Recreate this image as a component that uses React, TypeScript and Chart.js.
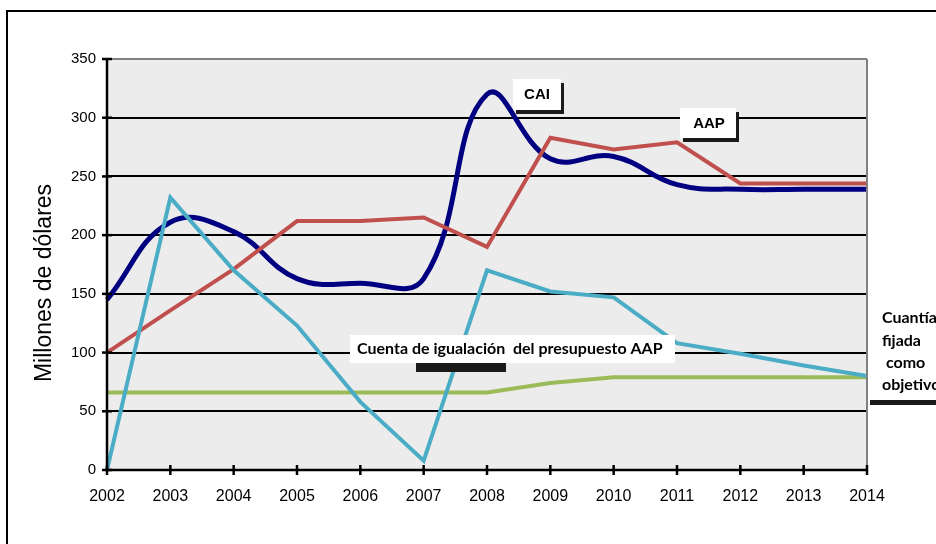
import React, { useEffect, useRef } from "react";
import { Chart, registerables } from "chart.js";

Chart.register(...registerables);

const years = ["2002", "2003", "2004", "2005", "2006", "2007", "2008", "2009", "2010", "2011", "2012", "2013", "2014"];
const caiValues = [145, 211, 203, 163, 159, 163, 320, 265, 267, 243, 239, 239, 239];
const aapValues = [100, 136, 171, 212, 212, 215, 190, 283, 273, 279, 244, 244, 244];
const cuentaValues = [0, 232, 170, 123, 58, 8, 170, 152, 147, 108, 99, 89, 80];
const objetivoValues = [66, 66, 66, 66, 66, 66, 66, 74, 79, 79, 79, 79, 79];
const yTicks = [0, 50, 100, 150, 200, 250, 300, 350];
const yTitle = "Millones de dólares";

const decorPlugin = {
  id: "decor",
  beforeDraw(chart: any) {
    const { ctx, chartArea } = chart;
    ctx.save();
    ctx.fillStyle = "#ffffff";
    ctx.fillRect(0, 0, chart.width, chart.height);
    ctx.fillStyle = "#ececec";
    ctx.fillRect(chartArea.left, chartArea.top, chartArea.right - chartArea.left, chartArea.bottom - chartArea.top);
    ctx.strokeStyle = "#000";
    ctx.lineWidth = 2;
    ctx.strokeRect(7, 11, 3000, 3000);
    ctx.translate(45, 283);
    ctx.rotate(-Math.PI / 2);
    ctx.fillStyle = "#000";
    ctx.font = "23px 'Liberation Sans', Arial, sans-serif";
    ctx.textAlign = "center";
    ctx.textBaseline = "middle";
    ctx.fillText(yTitle, 0, 0);
    ctx.restore();
  },
  afterDatasetsDraw(chart: any) {
    const { ctx, chartArea } = chart;
    const xs = chart.scales.x;
    const ys = chart.scales.y;
    ctx.save();
    ctx.strokeStyle = "#808080";
    ctx.lineWidth = 2;
    ctx.beginPath();
    ctx.moveTo(chartArea.right, chartArea.top);
    ctx.lineTo(chartArea.right, chartArea.bottom);
    ctx.stroke();
    ctx.strokeStyle = "#000";
    ctx.lineWidth = 2.5;
    ctx.beginPath();
    ctx.moveTo(chartArea.left, chartArea.top - 1);
    ctx.lineTo(chartArea.left, chartArea.bottom);
    ctx.lineTo(chartArea.right, chartArea.bottom);
    ctx.stroke();
    years.forEach((_, i) => {
      const x = xs.getPixelForValue(i);
      ctx.beginPath();
      ctx.moveTo(x, chartArea.bottom - 5);
      ctx.lineTo(x, chartArea.bottom + 5);
      ctx.stroke();
    });
    yTicks.forEach((v) => {
      const y = ys.getPixelForValue(v);
      ctx.beginPath();
      ctx.moveTo(chartArea.left - 5, y);
      ctx.lineTo(chartArea.left + 5, y);
      ctx.stroke();
    });

    const box = (x: number, y: number, w: number, h: number) => {
      ctx.fillStyle = "#1a1a1a";
      ctx.fillRect(x + 3, y + 4, w, h);
      ctx.fillStyle = "#ffffff";
      ctx.fillRect(x, y, w, h);
    };
    box(513, 79, 48, 31);
    ctx.fillStyle = "#000";
    ctx.font = "bold 15px 'Liberation Sans', Arial, sans-serif";
    ctx.textAlign = "center";
    ctx.textBaseline = "middle";
    ctx.fillText("CAI", 537, 95);
    box(680, 108, 56, 30);
    ctx.fillStyle = "#000";
    ctx.fillText("AAP", 709, 124);
    ctx.fillStyle = "#1a1a1a";
    ctx.fillRect(416, 363, 90, 9);
    ctx.fillStyle = "#ffffff";
    ctx.fillRect(350, 335, 325, 28);
    ctx.fillStyle = "#000";
    ctx.font = "bold 16px Lato, 'Noto Sans', sans-serif";
    ctx.textAlign = "left";
    ctx.fillText("Cuenta de igualación  del presupuesto AAP", 357, 349);
    ctx.fillStyle = "#ffffff";
    ctx.fillRect(872, 300, 70, 100);
    ctx.fillStyle = "#000";
    ctx.font = "bold 16px Lato, 'Noto Sans', sans-serif";
    ctx.fillText("Cuantía", 882, 318);
    ctx.fillText("fijada", 882, 341);
    ctx.fillText(" como", 882, 363);
    ctx.fillText("objetivo", 882, 385);
    ctx.fillStyle = "#1a1a1a";
    ctx.fillRect(870, 400, 66, 5);
    ctx.restore();
  },
};

export default function App() {
  const ref = useRef<HTMLCanvasElement>(null);
  useEffect(() => {
    document.body.style.margin = "0";
    const canvas = ref.current!;
    const chart = new Chart(canvas, {
      type: "line",
      data: {
        labels: years,
        datasets: [
          { label: "Cuantía fijada como objetivo", data: objetivoValues, borderColor: "#9bbb59", borderWidth: 4, pointRadius: 0, tension: 0, order: 4 },
          { label: "CAI", data: caiValues, borderColor: "#000080", borderWidth: 5, pointRadius: 0, tension: 0.42, order: 3 },
          { label: "AAP", data: aapValues, borderColor: "#c0504d", borderWidth: 4, pointRadius: 0, tension: 0, order: 2 },
          { label: "Cuenta de igualación del presupuesto AAP", data: cuentaValues, borderColor: "#4bacc6", borderWidth: 4, pointRadius: 0, tension: 0, order: 1 },
        ],
      },
      options: {
        animation: false,
        responsive: false,
        devicePixelRatio: 1,
        layout: { padding: { top: 59, right: 69, left: 0, bottom: 0 } },
        plugins: { legend: { display: false }, tooltip: { enabled: false } },
        scales: {
          x: {
            type: "category",
            offset: false,
            grid: { display: false, drawTicks: false },
            border: { display: false },
            ticks: { color: "#000", font: { family: "'Liberation Sans', Arial, sans-serif", size: 16 }, padding: 17, maxRotation: 0, autoSkip: false },
            afterFit: (s: any) => { s.height = 74; },
          },
          y: {
            min: 0,
            max: 350,
            ticks: { stepSize: 50, color: "#000", font: { family: "'Liberation Sans', Arial, sans-serif", size: 15 }, padding: 11 },
            grid: {
              drawTicks: false,
              color: (c: any) => (c.tick && c.tick.value === 350 ? "#808080" : "#000"),
              lineWidth: 2,
            },
            border: { display: false },
            title: { display: false },
            afterFit: (s: any) => { s.width = 107; },
          },
        },
      },
      plugins: [decorPlugin],
    });
    return () => chart.destroy();
  }, []);
  return (
    <div style={{ width: 936, height: 544, overflow: "hidden" }}>
      <canvas ref={ref} width={936} height={544} style={{ display: "block" }} />
    </div>
  );
}
